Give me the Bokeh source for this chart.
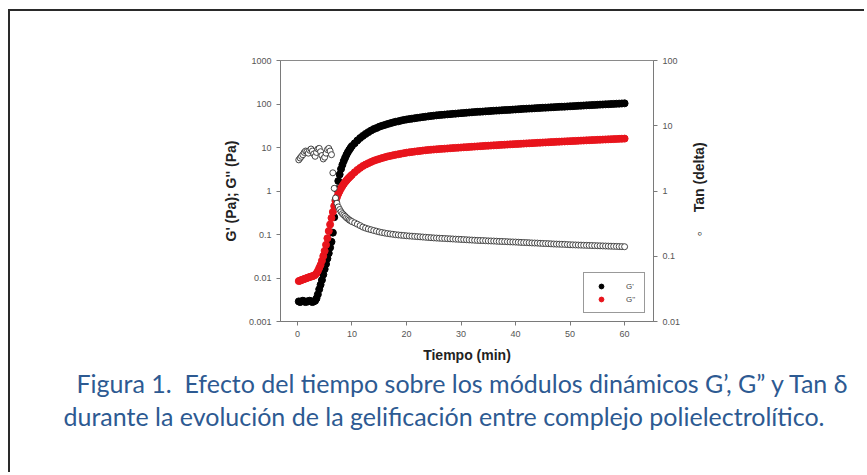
import math
from bokeh.plotting import figure
from bokeh.models import (Range1d, LogScale, LogAxis, FixedTicker, Title,
                          Legend, LegendItem, ColumnDataSource)
from bokeh.embed import file_html
from bokeh.resources import INLINE

# ---------------- data ----------------
tiempo = [0.25, 0.5, 0.75, 1.0, 1.25, 1.5, 1.75, 2.0, 2.25, 2.5, 2.75, 3.0, 3.25,
          3.5, 3.75, 4.0, 4.25, 4.5, 4.75, 5.0, 5.25, 5.5, 5.75, 6.0, 6.25, 6.5,
          6.75, 7.0, 7.25, 7.5, 7.75, 8.0, 8.25, 8.5, 8.75, 9.0, 9.25, 9.5, 9.75, 10.0,
          10.5, 11.0, 11.5, 12.0, 12.5, 13.0, 13.5, 14.0, 14.5, 15.0,
          15.5, 16.0, 16.5, 17.0, 17.5, 18.0, 18.5, 19.0, 19.5, 20.0,
          20.5, 21.0, 21.5, 22.0, 22.5, 23.0, 23.5, 24.0, 24.5, 25.0,
          25.5, 26.0, 26.5, 27.0, 27.5, 28.0, 28.5, 29.0, 29.5, 30.0,
          30.5, 31.0, 31.5, 32.0, 32.5, 33.0, 33.5, 34.0, 34.5, 35.0,
          35.5, 36.0, 36.5, 37.0, 37.5, 38.0, 38.5, 39.0, 39.5, 40.0,
          40.5, 41.0, 41.5, 42.0, 42.5, 43.0, 43.5, 44.0, 44.5, 45.0,
          45.5, 46.0, 46.5, 47.0, 47.5, 48.0, 48.5, 49.0, 49.5, 50.0,
          50.5, 51.0, 51.5, 52.0, 52.5, 53.0, 53.5, 54.0, 54.5, 55.0,
          55.5, 56.0, 56.5, 57.0, 57.5, 58.0, 58.5, 59.0, 59.5, 60.0]

g_prima = [0.0029, 0.0028, 0.0029, 0.0030, 0.0029, 0.0028, 0.0029, 0.0029, 0.0030, 0.0029,
           0.0028, 0.0029, 0.0030,
           0.0034, 0.0042, 0.0055, 0.0070, 0.0090, 0.012, 0.016, 0.021, 0.028, 0.037,
           0.050, 0.068, 0.11, 0.25, 0.62, 1.1, 1.7, 2.4, 3.2, 4.0, 4.9, 5.8, 6.8,
           7.8, 8.8, 9.8, 10.8,
           12.5, 14.5, 16.5, 18.5, 20.5, 22.5, 24.5, 26.5, 28.0, 30.0,
           31.5, 33.0, 34.5, 36.0, 37.5, 39.0, 40.0, 41.5, 43.0, 44.0,
           45.0, 46.0, 47.0, 48.0, 49.0, 50.0, 51.0, 52.0, 53.0, 54.0,
           54.8, 55.5, 56.3, 57.0, 57.8, 58.5, 59.3, 60.0, 60.8, 61.5,
           62.3, 63.0, 63.8, 64.5, 65.3, 66.0, 66.5, 67.0, 67.8, 68.5,
           69.3, 70.0, 70.5, 71.0, 71.8, 72.5, 73.0, 73.5, 74.3, 75.0,
           75.8, 76.5, 77.3, 78.0, 78.5, 79.0, 79.8, 80.5, 81.3, 82.0,
           82.5, 83.0, 83.8, 84.5, 85.3, 86.0, 86.5, 87.0, 87.8, 88.5,
           89.3, 90.0, 90.8, 91.5, 92.3, 93.0, 93.8, 94.5, 95.3, 96.0,
           96.8, 97.5, 98.3, 99.0, 99.8, 100.5, 101.3, 102.0, 102.8, 103.5]

g_doble = [0.0085, 0.0087, 0.0090, 0.0092, 0.0095, 0.0097, 0.0100, 0.0103, 0.0105, 0.0108,
           0.0110, 0.0113, 0.0118,
           0.0128, 0.0145, 0.017, 0.020, 0.025, 0.032, 0.042, 0.058, 0.082, 0.12,
           0.17, 0.24, 0.33, 0.45, 0.58, 0.72, 0.86, 1.0, 1.15, 1.3, 1.45, 1.6, 1.75,
           1.9, 2.05, 2.2, 2.35,
           2.7, 3.05, 3.4, 3.75, 4.05, 4.35, 4.65, 4.95, 5.2, 5.45,
           5.7, 5.95, 6.2, 6.4, 6.6, 6.8, 7.0, 7.2, 7.4, 7.6,
           7.75, 7.9, 8.05, 8.2, 8.35, 8.5, 8.65, 8.8, 8.9, 9.0,
           9.1, 9.2, 9.3, 9.4, 9.5, 9.6, 9.7, 9.8, 9.9, 10.0,
           10.1, 10.2, 10.3, 10.4, 10.5, 10.6, 10.7, 10.8, 10.9, 11.0,
           11.1, 11.2, 11.3, 11.4, 11.5, 11.6, 11.7, 11.8, 11.9, 12.0,
           12.1, 12.2, 12.3, 12.4, 12.5, 12.6, 12.7, 12.8, 12.9, 13.0,
           13.1, 13.2, 13.3, 13.4, 13.5, 13.6, 13.7, 13.8, 13.9, 14.0,
           14.1, 14.2, 14.3, 14.4, 14.5, 14.6, 14.7, 14.8, 14.9, 15.0,
           15.1, 15.2, 15.3, 15.4, 15.5, 15.6, 15.7, 15.8, 15.9, 16.0]

tan_delta = [3.0, 3.2, 3.4, 3.6, 3.9, 4.1, 4.0, 3.8, 4.2, 4.4, 4.1, 3.7, 3.4,
             3.9, 4.4, 4.5, 4.0, 3.5, 3.1, 3.3, 3.8, 4.3, 4.5, 4.1, 3.6,
             1.9, 1.1, 0.78, 0.65, 0.57, 0.52, 0.48, 0.45, 0.43, 0.41, 0.39, 0.375,
             0.36, 0.35, 0.34,
             0.325, 0.31, 0.295, 0.28, 0.27, 0.262, 0.255, 0.248, 0.242, 0.236,
             0.231, 0.227, 0.223, 0.22, 0.217, 0.214, 0.212, 0.21, 0.208, 0.206,
             0.2045, 0.203, 0.2015, 0.2, 0.1985, 0.197, 0.1955, 0.194, 0.1925, 0.191,
             0.19, 0.189, 0.188, 0.187, 0.186, 0.185, 0.184, 0.183, 0.182, 0.181,
             0.18, 0.179, 0.178, 0.177, 0.176, 0.175, 0.1745, 0.174, 0.173, 0.172,
             0.1715, 0.171, 0.17, 0.169, 0.1685, 0.168, 0.167, 0.166, 0.1655, 0.165,
             0.164, 0.163, 0.1625, 0.162, 0.161, 0.16, 0.1595, 0.159, 0.158, 0.157,
             0.1565, 0.156, 0.155, 0.154, 0.1535, 0.153, 0.1525, 0.152, 0.151, 0.15,
             0.1495, 0.149, 0.1485, 0.148, 0.1475, 0.147, 0.1465, 0.146, 0.1455, 0.145,
             0.1445, 0.144, 0.1435, 0.143, 0.1425, 0.142, 0.1415, 0.141, 0.1405, 0.14]

x_ticks = [0, 10, 20, 30, 40, 50, 60]
y_ticks = [0.001, 0.01, 0.1, 1, 10, 100, 1000]
y_tick_labels = ["0.001", "0.01", "0.1", "1", "10", "100", "1000"]
y2_ticks = [0.01, 0.1, 1, 10, 100]
y2_tick_labels = ["0.01", "0.1", "1", "10", "100"]

x_label = "Tiempo (min)"
y_label = "G' (Pa); G'' (Pa)"
y2_label = "\u25E6\u00a0\u00a0\u00a0\u00a0\u00a0Tan (delta)"
y2_label_anchor = 0.2          # where the rotated right-hand title starts (tan scale)
legend_labels = ["G'", "G''"]
caption_1 = "Figura 1.\u00a0 Efecto del tiempo sobre los módulos dinámicos G’, G” y Tan δ"
caption_2 = "durante la evolución de la gelificación entre complejo polielectrolítico."

# ---------------- figure ----------------
W, H = 856, 463
p = figure(width=W, height=H, output_backend="svg", toolbar_location=None,
           x_range=Range1d(-3.1, 65.3), y_range=Range1d(0.001, 1000),
           y_axis_type="log",
           min_border_left=270, min_border_right=213,
           min_border_top=49, min_border_bottom=153,
           styles={"margin-left": "8px", "margin-top": "9px",
                   "border-left": "2px solid #2a2a2a",
                   "border-top": "2px solid #2a2a2a"})
p.background_fill_color = "white"
p.border_fill_color = "white"
p.outline_line_color = "#8a8a8a"
p.xgrid.visible = False
p.ygrid.visible = False

p.extra_y_ranges = {"tan": Range1d(0.01, 100)}
p.extra_y_scales = {"tan": LogScale()}
ax2 = LogAxis(y_range_name="tan")
p.add_layout(ax2, "right")

src = ColumnDataSource(dict(t=tiempo, gp=g_prima, gpp=g_doble, td=tan_delta))

r1 = p.scatter("t", "gp", source=src, size=7, color="black")
r2 = p.scatter("t", "gpp", source=src, size=7, color="#e8141c")
r3 = p.scatter("t", "td", source=src, size=6, fill_color="white",
               line_color="#333333", line_width=0.9, y_range_name="tan")

# axes
p.xaxis.ticker = FixedTicker(ticks=x_ticks)
p.yaxis[0].ticker = FixedTicker(ticks=y_ticks)
p.yaxis[0].major_label_overrides = dict(zip(y_ticks, y_tick_labels))
ax2.ticker = FixedTicker(ticks=y2_ticks)
ax2.major_label_overrides = dict(zip(y2_ticks, y2_tick_labels))

p.xaxis.axis_label = x_label
p.yaxis[0].axis_label = y_label

for ax in [p.xaxis[0], p.yaxis[0], ax2]:
    ax.axis_line_color = "#7a7a7a"
    ax.major_tick_line_color = "#7a7a7a"
    ax.major_tick_out = 4
    ax.major_tick_in = 0
    ax.minor_tick_line_color = None
    ax.major_label_text_font = "Liberation Sans"
    ax.major_label_text_font_size = "9px"
    ax.major_label_text_color = "#555555"
    ax.major_label_standoff = 5
    ax.axis_label_text_font = "Liberation Sans"
    ax.axis_label_text_font_size = "14px"
    ax.axis_label_text_font_style = "bold"
    ax.axis_label_text_color = "#222222"
    ax.axis_label_standoff = 7

# right-hand title, reading bottom-to-top like the reference
ax3 = LogAxis(y_range_name="tan", ticker=FixedTicker(ticks=[y2_label_anchor]))
ax3.major_label_overrides = {y2_label_anchor: y2_label}
ax3.major_label_orientation = math.pi / 2
ax3.axis_line_color = None
ax3.major_tick_line_color = None
ax3.minor_tick_line_color = None
ax3.major_tick_out = 0
ax3.major_tick_in = 0
ax3.major_label_standoff = 16
ax3.major_label_text_font = "Liberation Sans"
ax3.major_label_text_font_size = "14px"
ax3.major_label_text_font_style = "bold"
ax3.major_label_text_color = "#222222"
p.add_layout(ax3, "right")

legend = Legend(items=[LegendItem(label=legend_labels[0], renderers=[r1]),
                       LegendItem(label=legend_labels[1], renderers=[r2])],
                location="bottom_right")
legend.border_line_color = "#333333"
legend.label_text_font = "Liberation Sans"
legend.label_text_font_size = "8px"
legend.label_text_color = "#444444"
legend.glyph_width = 20
legend.glyph_height = 12
legend.label_height = 12
legend.label_width = 11
legend.label_standoff = 15
legend.padding = 7
legend.spacing = 1
legend.margin = 8
p.add_layout(legend)

cap_color = "#2d5a92"
t1 = Title(text=caption_1, align="left", offset=-204, standoff=1,
           text_font="Lato", text_font_size="25px", text_font_style="normal",
           text_color=cap_color)
t2 = Title(text=caption_2, align="left", offset=-217, standoff=0,
           text_font="Lato", text_font_size="25px", text_font_style="normal",
           text_color=cap_color)
p.add_layout(t1, "below")
p.add_layout(t2, "below")

open("out.html", "w").write(file_html(p, INLINE))
